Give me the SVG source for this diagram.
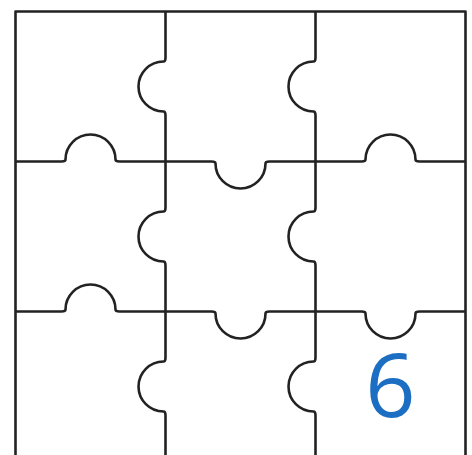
<svg xmlns="http://www.w3.org/2000/svg" width="472" height="455" viewBox="0 0 472 455">
<style>
.edge{fill:none;stroke:#222;stroke-width:2.6;stroke-linejoin:round}
.num{font-family:"Open Sans","Noto Sans",sans-serif;font-size:88px;fill:#1b6ec2}
</style>
<rect width="472" height="455" fill="#fff"/>
<g id="border">
<path class="edge" d="M15.5,455 V11.5 H465.5 V455"/>
</g>
<g id="edges">
<path id="v1" class="edge" d="M165.5,11.5 V57.5 Q165.5,61.5 163.5,61.5 A25,25 0 0 0 163.5,111.5 Q165.5,111.5 165.5,115.5 V207.5 Q165.5,211.5 163.5,211.5 A25,25 0 0 0 163.5,261.5 Q165.5,261.5 165.5,265.5 V357.5 Q165.5,361.5 163.5,361.5 A25,25 0 0 0 163.5,411.5 Q165.5,411.5 165.5,415.5 V455"/>
<path id="v2" class="edge" d="M315.5,11.5 V57.5 Q315.5,61.5 313.5,61.5 A25,25 0 0 0 313.5,111.5 Q315.5,111.5 315.5,115.5 V207.5 Q315.5,211.5 313.5,211.5 A25,25 0 0 0 313.5,261.5 Q315.5,261.5 315.5,265.5 V357.5 Q315.5,361.5 313.5,361.5 A25,25 0 0 0 313.5,411.5 Q315.5,411.5 315.5,415.5 V455"/>
<path id="h1" class="edge" d="M15.5,161.5 H61.5 Q65.5,161.5 65.5,159.5 A25,25 0 0 1 115.5,159.5 Q115.5,161.5 119.5,161.5 H211.5 Q215.5,161.5 215.5,163.5 A25,25 0 0 0 265.5,163.5 Q265.5,161.5 269.5,161.5 H361.5 Q365.5,161.5 365.5,159.5 A25,25 0 0 1 415.5,159.5 Q415.5,161.5 419.5,161.5 H465.5"/>
<path id="h2" class="edge" d="M15.5,311.5 H61.5 Q65.5,311.5 65.5,309.5 A25,25 0 0 1 115.5,309.5 Q115.5,311.5 119.5,311.5 H211.5 Q215.5,311.5 215.5,313.5 A25,25 0 0 0 265.5,313.5 Q265.5,311.5 269.5,311.5 H361.5 Q365.5,311.5 365.5,313.5 A25,25 0 0 0 415.5,313.5 Q415.5,311.5 419.5,311.5 H465.5"/>
</g>
<g id="label6">
<text class="num" x="390.5" y="417" text-anchor="middle">6</text>
</g>
</svg>
